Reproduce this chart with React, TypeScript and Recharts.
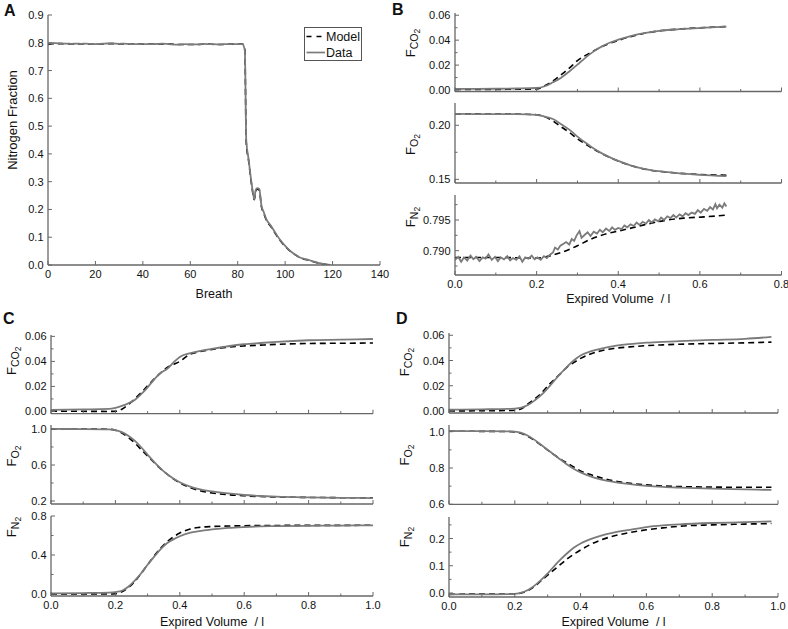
import React from 'react';
import { LineChart, Line, XAxis, YAxis, Legend } from 'recharts';

const FONT = '"Liberation Sans", Arial, Helvetica, sans-serif';
const AX = '#676767';
const DATA_C = '#7b7b7b';
const MODEL_C = '#000000';
const TXT = '#111111';

// ---------- Panel A : nitrogen washout per breath ----------
const aBreath = [
  0, 2, 4, 6, 8, 10, 12, 14, 16, 18, 20, 22, 24, 26, 28, 30, 32, 34, 36, 38, 40,
  42, 44, 46, 48, 50, 52, 54, 56, 58, 60, 62, 64, 66, 68, 70, 72, 74, 76, 78, 80, 82,
  83, 83.6, 84.6, 85.3, 86, 87, 87.5, 88.2, 89.1, 90, 91, 92,
  94, 96, 98, 100, 102, 104, 106, 108, 110, 112, 114, 116, 118, 119,
];
const aDataN2 = [
  0.797, 0.799, 0.798, 0.797, 0.797, 0.796, 0.797, 0.796, 0.797, 0.796, 0.795,
  0.796, 0.797, 0.798, 0.797, 0.796, 0.797, 0.796, 0.795, 0.795, 0.796, 0.795,
  0.795, 0.796, 0.797, 0.796, 0.794, 0.793, 0.794, 0.795, 0.794, 0.794, 0.795,
  0.796, 0.795, 0.795, 0.794, 0.795, 0.795, 0.796, 0.795, 0.795,
  0.772, 0.45, 0.38, 0.33, 0.285, 0.237, 0.267, 0.277, 0.273, 0.214, 0.19, 0.166,
  0.141, 0.114, 0.089, 0.069, 0.052, 0.039, 0.028, 0.022, 0.018, 0.012, 0.008, 0.004, 0.001, 0.0,
];
const aModelN2 = [
  0.794, 0.797, 0.797, 0.797, 0.796, 0.796, 0.796, 0.796, 0.796, 0.796, 0.796,
  0.796, 0.796, 0.797, 0.797, 0.796, 0.796, 0.796, 0.796, 0.795, 0.795, 0.795,
  0.795, 0.795, 0.796, 0.795, 0.795, 0.794, 0.794, 0.794, 0.794, 0.794, 0.794,
  0.795, 0.795, 0.794, 0.794, 0.794, 0.795, 0.795, 0.795, 0.795,
  0.776, 0.44, 0.375, 0.325, 0.28, 0.235, 0.262, 0.273, 0.27, 0.21, 0.186, 0.163,
  0.138, 0.111, 0.087, 0.067, 0.051, 0.038, 0.028, 0.021, 0.017, 0.012, 0.007, 0.004, 0.001, 0.0,
];

// ---------- Panel B : air breathing ----------
const bVol = [0, 0.05, 0.1, 0.15, 0.2, 0.22, 0.24, 0.26, 0.28, 0.3, 0.32, 0.34, 0.36, 0.38, 0.4, 0.43, 0.46, 0.5, 0.55, 0.6, 0.665];
const bCO2Data = [0.0008, 0.0009, 0.001, 0.0012, 0.0016, 0.003, 0.0062, 0.0099, 0.0148, 0.0204, 0.026, 0.031, 0.035, 0.0381, 0.0404, 0.0433, 0.0455, 0.0475, 0.0488, 0.0498, 0.0509];
const bCO2Model = [0.0004, 0.0004, 0.0005, 0.0006, 0.0008, 0.0035, 0.0072, 0.0122, 0.0175, 0.0236, 0.0278, 0.0314, 0.0348, 0.0375, 0.0398, 0.0428, 0.0452, 0.0474, 0.0489, 0.0499, 0.0509];
const bO2Data = [0.2105, 0.2104, 0.2104, 0.2103, 0.2096, 0.208, 0.2058, 0.201, 0.196, 0.1895, 0.1838, 0.1785, 0.174, 0.1703, 0.167, 0.163, 0.16, 0.1575, 0.1555, 0.1542, 0.153];
const bO2Model = [0.2105, 0.2105, 0.2104, 0.2103, 0.2098, 0.2078, 0.204, 0.1985, 0.1935, 0.1875, 0.1825, 0.1778, 0.1738, 0.17, 0.1668, 0.1628, 0.1598, 0.1574, 0.1556, 0.1545, 0.1538];
const bN2DataVol = [
  0, 0.008, 0.015, 0.022, 0.03, 0.038, 0.045, 0.052, 0.06, 0.068, 0.075, 0.082, 0.09, 0.098,
  0.105, 0.112, 0.12, 0.128, 0.135, 0.142, 0.15, 0.158, 0.165, 0.172, 0.18, 0.188, 0.195,
  0.202, 0.21, 0.218, 0.225, 0.232, 0.24, 0.245, 0.252, 0.258, 0.265, 0.272, 0.28, 0.286,
  0.292, 0.298, 0.305, 0.31, 0.318, 0.325, 0.332, 0.34, 0.348, 0.355, 0.362, 0.37, 0.378,
  0.385, 0.392, 0.4, 0.408, 0.415, 0.422, 0.43, 0.438, 0.445, 0.452, 0.46, 0.468, 0.475,
  0.482, 0.49, 0.498, 0.505, 0.512, 0.52, 0.528, 0.535, 0.542, 0.55, 0.558, 0.565, 0.572,
  0.58, 0.588, 0.595, 0.602, 0.61, 0.618, 0.625, 0.632, 0.638, 0.642, 0.648, 0.655, 0.66, 0.665,
];
const bN2Data = [
  0.7885, 0.789, 0.7882, 0.7889, 0.7884, 0.7892, 0.7886, 0.789, 0.7883, 0.7889, 0.7887, 0.7894, 0.7885, 0.789,
  0.7883, 0.7889, 0.7886, 0.7891, 0.7884, 0.7888, 0.7885, 0.7891, 0.7882, 0.7889, 0.7887, 0.7892, 0.7886,
  0.7889, 0.7885, 0.7891, 0.7888, 0.7893, 0.7897, 0.7905, 0.7902, 0.7908, 0.7911, 0.7914, 0.791, 0.7919,
  0.7916, 0.7925, 0.7932, 0.7921, 0.7926, 0.793, 0.7924, 0.7931, 0.7928, 0.7934, 0.793, 0.7936, 0.7932,
  0.7938, 0.7934, 0.7937, 0.7935, 0.7941, 0.7938, 0.7943, 0.794, 0.7946, 0.7942, 0.7947, 0.7944, 0.795,
  0.7946, 0.7951, 0.7948, 0.7954, 0.795, 0.7956, 0.7953, 0.7958, 0.7954, 0.7959, 0.7956, 0.7961, 0.7958,
  0.7962, 0.796, 0.7966, 0.7962, 0.7968, 0.7965, 0.7971, 0.7967, 0.7976, 0.7969, 0.7975, 0.797, 0.7977, 0.7972,
];
const bN2ModelVol = [0, 0.1, 0.2, 0.25, 0.3, 0.33, 0.373, 0.414, 0.463, 0.512, 0.56, 0.61, 0.665];
const bN2Model = [0.7889, 0.7889, 0.7888, 0.7895, 0.7908, 0.7918, 0.7928, 0.7934, 0.7942, 0.7949, 0.7953, 0.7955, 0.7958];

// ---------- Panel C ----------
const cVol = [0, 0.1, 0.18, 0.2, 0.22, 0.24, 0.26, 0.28, 0.3, 0.32, 0.34, 0.36, 0.38, 0.4, 0.43, 0.46, 0.5, 0.55, 0.6, 0.65, 0.7, 0.8, 0.9, 1.0];
const cCO2Data = [0.0013, 0.0016, 0.002, 0.0029, 0.0045, 0.0065, 0.0092, 0.0138, 0.0193, 0.0255, 0.0307, 0.0339, 0.039, 0.0436, 0.0465, 0.0482, 0.05, 0.0521, 0.0537, 0.0547, 0.0556, 0.0569, 0.0574, 0.0579];
const cCO2Model = [0.0003, 0.0001, 0.0, 0.0002, 0.0018, 0.0055, 0.01, 0.015, 0.0205, 0.0258, 0.0307, 0.035, 0.0375, 0.04, 0.0455, 0.0477, 0.0496, 0.0514, 0.0524, 0.053, 0.0536, 0.0543, 0.0545, 0.0547];
const cO2Data = [1.0, 0.999, 0.996, 0.986, 0.965, 0.925, 0.87, 0.797, 0.714, 0.634, 0.563, 0.5, 0.45, 0.408, 0.363, 0.332, 0.307, 0.284, 0.267, 0.256, 0.248, 0.24, 0.236, 0.233];
const cO2Model = [1.0, 1.0, 0.997, 0.985, 0.955, 0.905, 0.845, 0.772, 0.7, 0.628, 0.56, 0.5, 0.445, 0.4, 0.352, 0.318, 0.29, 0.27, 0.258, 0.25, 0.245, 0.24, 0.237, 0.235];
const cN2Data = [0.007, 0.01, 0.015, 0.02, 0.033, 0.075, 0.138, 0.213, 0.3, 0.38, 0.458, 0.52, 0.56, 0.592, 0.626, 0.645, 0.662, 0.678, 0.687, 0.693, 0.696, 0.699, 0.702, 0.704];
const cN2Model = [0.0, 0.0, 0.0, 0.003, 0.022, 0.065, 0.128, 0.21, 0.3, 0.388, 0.468, 0.535, 0.585, 0.625, 0.665, 0.683, 0.692, 0.697, 0.7, 0.702, 0.703, 0.704, 0.704, 0.705];

// ---------- Panel D ----------
const dVol = [0, 0.1, 0.18, 0.2, 0.22, 0.24, 0.26, 0.28, 0.3, 0.32, 0.34, 0.36, 0.38, 0.4, 0.43, 0.46, 0.5, 0.55, 0.6, 0.65, 0.7, 0.8, 0.9, 0.98];
const dCO2Data = [0.001, 0.0013, 0.0017, 0.0019, 0.0027, 0.0047, 0.0083, 0.0126, 0.018, 0.024, 0.0299, 0.0354, 0.0402, 0.0439, 0.0472, 0.0493, 0.0514, 0.053, 0.0541, 0.0548, 0.0553, 0.0563, 0.0572, 0.0587];
const dCO2Model = [0.0, 0.0002, 0.0004, 0.0006, 0.0018, 0.0056, 0.0095, 0.014, 0.0198, 0.025, 0.0298, 0.0349, 0.0385, 0.0417, 0.0452, 0.0476, 0.0495, 0.0508, 0.0518, 0.0524, 0.0529, 0.0535, 0.054, 0.0546];
const dO2Data = [1.004, 1.003, 1.002, 1.0, 0.993, 0.978, 0.955, 0.928, 0.9, 0.872, 0.845, 0.818, 0.795, 0.776, 0.754, 0.738, 0.723, 0.711, 0.702, 0.696, 0.692, 0.686, 0.682, 0.679];
const dO2Model = [1.003, 1.002, 1.001, 0.999, 0.99, 0.974, 0.952, 0.926, 0.899, 0.872, 0.848, 0.826, 0.805, 0.784, 0.764, 0.747, 0.729, 0.716, 0.707, 0.701, 0.698, 0.695, 0.694, 0.694];
const dN2Data = [-0.005, -0.005, -0.004, -0.003, 0.001, 0.011, 0.027, 0.048, 0.072, 0.099, 0.124, 0.147, 0.167, 0.182, 0.198, 0.21, 0.222, 0.232, 0.242, 0.248, 0.252, 0.257, 0.26, 0.263];
const dN2Model = [-0.005, -0.004, -0.004, -0.003, 0.0, 0.009, 0.024, 0.045, 0.066, 0.086, 0.106, 0.126, 0.143, 0.158, 0.178, 0.194, 0.209, 0.222, 0.232, 0.239, 0.245, 0.25, 0.253, 0.255];

// ---------- Tick values ----------
const aXTicks = [0, 20, 40, 60, 80, 100, 120, 140];
const aYTicks = [0, 0.1, 0.2, 0.3, 0.4, 0.5, 0.6, 0.7, 0.8, 0.9];
const bXTicks = [0, 0.1, 0.2, 0.3, 0.4, 0.5, 0.6, 0.7, 0.8];
const bXMajor = [0, 0.2, 0.4, 0.6, 0.8];
const cdXTicks = [0, 0.1, 0.2, 0.3, 0.4, 0.5, 0.6, 0.7, 0.8, 0.9, 1.0];
const cdXMajor = [0, 0.2, 0.4, 0.6, 0.8, 1.0];
const co2Ticks = [0, 0.01, 0.02, 0.03, 0.04, 0.05, 0.06];
const co2Major = [0, 0.02, 0.04, 0.06];
const bO2Ticks = [0.15, 0.175, 0.2];
const bO2Major = [0.15, 0.2];
const bN2Ticks = [0.7875, 0.79, 0.7925, 0.795, 0.7975];
const bN2Major = [0.79, 0.795];
const cO2Ticks = [0.2, 0.4, 0.6, 0.8, 1.0];
const cO2Major = [0.2, 0.6, 1.0];
const cN2Ticks = [0, 0.2, 0.4, 0.6, 0.8];
const cN2Major = [0, 0.4, 0.8];
const dO2Ticks = [0.6, 0.7, 0.8, 0.9, 1.0];
const dO2Major = [0.6, 0.8, 1.0];
const dN2Ticks = [0, 0.05, 0.1, 0.15, 0.2, 0.25];
const dN2Major = [0, 0.1, 0.2];

const legendItems = [
  { name: 'Model', color: MODEL_C, dashed: true },
  { name: 'Data', color: DATA_C, dashed: false },
];

const zip = (xs: number[], ys: number[]) => xs.map((x, i) => ({ x, y: ys[i] }));
const f0 = (v: number) => v.toFixed(0);
const f1 = (v: number) => v.toFixed(1);
const f2 = (v: number) => v.toFixed(2);
const f3 = (v: number) => v.toFixed(3);

const axisLineStyle = { stroke: AX, strokeWidth: 1.3 };

function Tk(props: any) {
  const { x, y, payload, side, majors, fmt, show } = props;
  const v = payload.value;
  const major = majors.some((m: number) => Math.abs(m - v) < 1e-9);
  const len = major ? 4 : 2.5;
  let l = { x1: x, y1: y, x2: x, y2: y };
  if (side === 'b') l = { x1: x, y1: y, x2: x, y2: y - len };
  if (side === 't') l = { x1: x, y1: y, x2: x, y2: y + len };
  if (side === 'l') l = { x1: x, y1: y, x2: x + len, y2: y };
  if (side === 'r') l = { x1: x, y1: y, x2: x - len, y2: y };
  let label = null;
  if (show && major) {
    if (side === 'b')
      label = (
        <text x={x} y={y + 13} textAnchor="middle" fontSize={11} fontFamily={FONT} fill={TXT}>
          {fmt(v)}
        </text>
      );
    if (side === 'l')
      label = (
        <text x={x - 4.5} y={y + 4} textAnchor="end" fontSize={11} fontFamily={FONT} fill={TXT}>
          {fmt(v)}
        </text>
      );
  }
  return (
    <g>
      <line {...l} stroke={AX} strokeWidth={1} />
      {label}
    </g>
  );
}

function XTitle(props: any) {
  const { viewBox, text, dy } = props;
  return (
    <text x={viewBox.x + viewBox.width / 2} y={viewBox.y + dy} textAnchor="middle" fontSize={12.5} fontFamily={FONT} fill={TXT} style={{ whiteSpace: 'pre' }}>
      {text}
    </text>
  );
}

function YLabel(props: any) {
  const { lx, ly, node } = props;
  return (
    <text x={lx} y={ly} transform={`rotate(-90 ${lx} ${ly})`} textAnchor="middle" fontSize={13} fontFamily={FONT} fill={TXT}>
      {node}
    </text>
  );
}

function LegendBox() {
  return (
    <svg width={58} height={34} style={{ display: 'block' }}>
      <rect x={0.5} y={0.5} width={57} height={33} fill="#fff" stroke="#555" strokeWidth={1} />
      {legendItems.map((it, i) => (
        <g key={it.name}>
          <line x1={2.5} x2={21} y1={9.5 + i * 16} y2={9.5 + i * 16} stroke={it.color} strokeWidth={1.7} strokeDasharray={it.dashed ? '5 5' : undefined} />
          <text x={22} y={13.8 + i * 16} fontSize={12.5} fontFamily={FONT} fill={TXT}>
            {it.name}
          </text>
        </g>
      ))}
    </svg>
  );
}

const YW = 52;
const MT = 6;
const MR = 20;
const XH = 44;

type Pt = { x: number; y: number };
type SubProps = {
  pl: number; pt: number; pw: number; ph: number;
  xd: [number, number]; xt: number[]; xm: number[]; xf: (v: number) => string; showX: boolean;
  xTitle?: string; xTitleDy?: number;
  yd: [number, number]; yt: number[]; ym: number[]; yf: (v: number) => string;
  yLab: React.ReactNode; labX: number; labY: number;
  model: Pt[]; data: Pt[]; dataLinear?: boolean; legend?: boolean;
};

function Sub(p: SubProps) {
  const W = YW + p.pw + MR;
  const H = MT + p.ph + XH;
  const ox = p.pl - YW;
  const oy = p.pt - MT;
  return (
    <div style={{ position: 'absolute', left: ox, top: oy, width: W, height: H }}>
      <LineChart width={W} height={H} margin={{ top: MT, right: MR, bottom: 0, left: 0 }}>
        <XAxis
          xAxisId="b" orientation="bottom" type="number" dataKey="x" domain={p.xd} ticks={p.xt} interval={0}
          allowDataOverflow height={XH} tickSize={0} tickMargin={0} tickLine={false} axisLine={axisLineStyle}
          tick={(t: any) => <Tk {...t} side="b" majors={p.xm} fmt={p.xf} show={p.showX} />}
          label={p.xTitle ? <XTitle text={p.xTitle} dy={p.xTitleDy} /> : undefined}
        />
        <XAxis
          xAxisId="t" orientation="top" type="number" dataKey="x" domain={p.xd} ticks={p.xt} interval={0}
          allowDataOverflow height={0} tickSize={0} tickMargin={0} tickLine={false} axisLine={axisLineStyle}
          tick={(t: any) => <Tk {...t} side="t" majors={p.xm} fmt={p.xf} show={false} />}
        />
        <YAxis
          yAxisId="l" orientation="left" type="number" domain={p.yd} ticks={p.yt} interval={0}
          allowDataOverflow width={YW} tickSize={0} tickMargin={0} tickLine={false} axisLine={axisLineStyle}
          tick={(t: any) => <Tk {...t} side="l" majors={p.ym} fmt={p.yf} show={true} />}
          label={<YLabel lx={p.labX - ox} ly={p.labY - oy} node={p.yLab} />}
        />
        <YAxis
          yAxisId="r" orientation="right" type="number" domain={p.yd} ticks={p.yt} interval={0}
          allowDataOverflow width={0} tickSize={0} tickMargin={0} tickLine={false} axisLine={axisLineStyle}
          tick={(t: any) => <Tk {...t} side="r" majors={p.ym} fmt={p.yf} show={false} />}
        />
        <Line
          xAxisId="b" yAxisId="l" data={p.model} dataKey="y" name="Model" type="monotone"
          stroke={MODEL_C} strokeWidth={1.6} strokeDasharray="6 4" dot={false} isAnimationActive={false}
        />
        <Line
          xAxisId="b" yAxisId="l" data={p.data} dataKey="y" name="Data" type={p.dataLinear ? 'linear' : 'monotone'}
          stroke={DATA_C} strokeWidth={1.8} dot={false} isAnimationActive={false}
        />
        {p.legend && (
          <Legend
            layout="horizontal" verticalAlign="middle" align="center"
            wrapperStyle={{ position: 'absolute', left: 304 - ox, top: 27 - oy, width: 58, height: 34 }}
            content={() => <LegendBox />}
          />
        )}
      </LineChart>
    </div>
  );
}

const FCO2 = (
  <>
    F<tspan fontSize={10.5} dy={3}>CO</tspan>
    <tspan fontSize={8.5} dy={2}>2</tspan>
  </>
);
const FO2 = (
  <>
    F<tspan fontSize={10.5} dy={3}>O</tspan>
    <tspan fontSize={8.5} dy={2}>2</tspan>
  </>
);
const FN2 = (
  <>
    F<tspan fontSize={10.5} dy={3}>N</tspan>
    <tspan fontSize={8.5} dy={2}>2</tspan>
  </>
);

const EXP = 'Expired Volume  / l';

export default function App() {
  return (
    <div style={{ position: 'absolute', left: 0, top: 0, width: 788, height: 629, background: '#fff', overflow: 'hidden' }}>
      {/* A */}
      <Sub pl={47.5} pt={15} pw={332} ph={250}
        xd={[0, 140]} xt={aXTicks} xm={aXTicks} xf={f0} showX xTitle="Breath" xTitleDy={33}
        yd={[0, 0.9]} yt={aYTicks} ym={aYTicks} yf={f1}
        yLab="Nitrogen Fraction" labX={16} labY={120}
        model={zip(aBreath, aModelN2)} data={zip(aBreath, aDataN2)} legend />
      {/* B */}
      <Sub pl={454.5} pt={13} pw={326.5} ph={78.5}
        xd={[0, 0.8]} xt={bXTicks} xm={bXMajor} xf={f1} showX={false}
        yd={[-0.0012, 0.0618]} yt={co2Ticks} ym={co2Major} yf={f2}
        yLab={FCO2} labX={414} labY={43}
        model={zip(bVol, bCO2Model)} data={zip(bVol, bCO2Data)} />
      <Sub pl={454.5} pt={103} pw={326.5} ph={80}
        xd={[0, 0.8]} xt={bXTicks} xm={bXMajor} xf={f1} showX={false}
        yd={[0.1466, 0.2206]} yt={bO2Ticks} ym={bO2Major} yf={f2}
        yLab={FO2} labX={414} labY={144.5}
        model={zip(bVol, bO2Model)} data={zip(bVol, bO2Data)} />
      <Sub pl={454.5} pt={195} pw={326.5} ph={80}
        xd={[0, 0.8]} xt={bXTicks} xm={bXMajor} xf={f1} showX xTitle={EXP} xTitleDy={28}
        yd={[0.78604, 0.79907]} yt={bN2Ticks} ym={bN2Major} yf={f3}
        yLab={FN2} labX={414} labY={217}
        model={zip(bN2ModelVol, bN2Model)} data={zip(bN2DataVol, bN2Data)} dataLinear />
      {/* C */}
      <Sub pl={50.5} pt={335.3} pw={322} ph={78.7}
        xd={[0, 1]} xt={cdXTicks} xm={cdXMajor} xf={f1} showX={false}
        yd={[-0.0018, 0.0611]} yt={co2Ticks} ym={co2Major} yf={f2}
        yLab={FCO2} labX={15} labY={361}
        model={zip(cVol, cCO2Model)} data={zip(cVol, cCO2Data)} />
      <Sub pl={50.5} pt={425} pw={322} ph={79}
        xd={[0, 1]} xt={cdXTicks} xm={cdXMajor} xf={f1} showX={false}
        yd={[0.167, 1.044]} yt={cO2Ticks} ym={cO2Major} yf={f1}
        yLab={FO2} labX={15} labY={456}
        model={zip(cVol, cO2Model)} data={zip(cVol, cO2Data)} />
      <Sub pl={50.5} pt={516} pw={322} ph={80}
        xd={[0, 1]} xt={cdXTicks} xm={cdXMajor} xf={f1} showX xTitle={EXP} xTitleDy={30}
        yd={[-0.0205, 0.8]} yt={cN2Ticks} ym={cN2Major} yf={f1}
        yLab={FN2} labX={15} labY={527}
        model={zip(cVol, cN2Model)} data={zip(cVol, cN2Data)} />
      {/* D */}
      <Sub pl={449} pt={333} pw={329} ph={80}
        xd={[0, 1]} xt={cdXTicks} xm={cdXMajor} xf={f1} showX={false}
        yd={[-0.0016, 0.0618]} yt={co2Ticks} ym={co2Major} yf={f2}
        yLab={FCO2} labX={409} labY={362}
        model={zip(dVol, dCO2Model)} data={zip(dVol, dCO2Data)} />
      <Sub pl={449} pt={425} pw={329} ph={79.3}
        xd={[0, 1]} xt={cdXTicks} xm={cdXMajor} xf={f1} showX={false}
        yd={[0.6, 1.037]} yt={dO2Ticks} ym={dO2Major} yf={f1}
        yLab={FO2} labX={409} labY={455}
        model={zip(dVol, dO2Model)} data={zip(dVol, dO2Data)} />
      <Sub pl={449} pt={517} pw={329} ph={80}
        xd={[0, 1]} xt={cdXTicks} xm={cdXMajor} xf={f1} showX xTitle={EXP} xTitleDy={29}
        yd={[-0.0147, 0.279]} yt={dN2Ticks} ym={dN2Major} yf={f1}
        yLab={FN2} labX={409} labY={537}
        model={zip(dVol, dN2Model)} data={zip(dVol, dN2Data)} />
      <svg width={788} height={629} style={{ position: 'absolute', left: 0, top: 0, pointerEvents: 'none' }}>
        <text x={4} y={15.5} fontSize={16} fontWeight="bold" fontFamily={FONT} fill={TXT}>A</text>
        <text x={392} y={15} fontSize={16} fontWeight="bold" fontFamily={FONT} fill={TXT}>B</text>
        <text x={3} y={323.5} fontSize={16} fontWeight="bold" fontFamily={FONT} fill={TXT}>C</text>
        <text x={396} y={323.5} fontSize={16} fontWeight="bold" fontFamily={FONT} fill={TXT}>D</text>
      </svg>
    </div>
  );
}
